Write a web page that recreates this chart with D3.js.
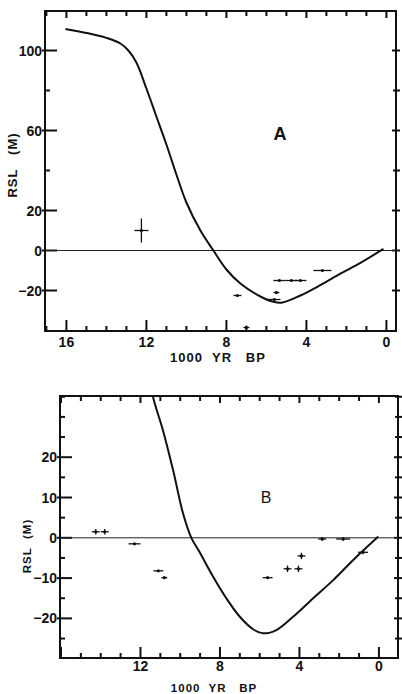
<!DOCTYPE html>
<html>
<head>
<meta charset="utf-8">
<script src="https://cdn.jsdelivr.net/npm/d3@7"></script>
<style>
  body { margin: 0; background: #fff; }
  text { font-family: "Liberation Sans", Arial, sans-serif; fill: #111; }
</style>
</head>
<body>
<div class="graphHere"></div>
<script>
// panel A: model curve + dated samples
var curveAgeA = [16.05, 15, 14, 13.3, 12.9, 12.5, 12, 11.5, 11, 10.5, 10, 9.3, 8.65, 8, 7.3, 6.3, 5.6, 5.2, 4.3, 3.3, 2.3, 1.3, 0.15];
var curveRslA = [110.8, 108.8, 106.3, 103.5, 100, 94, 81, 67, 53, 38, 24, 10, 0, -9.5, -16.5, -23, -25.8, -26, -22.5, -17.3, -11.6, -6.2, 0.8];
var ageA    = [12.25, 7.45, 5.5, 5.6, 5.35, 4.75, 4.3, 3.2, 7.0];
var rslA    = [10, -22.5, -21, -24.5, -15, -15, -15, -10, -38.5];
var ageErrA = [0.35, 0.2, 0.15, 0.3, 0.3, 0.3, 0.3, 0.45, 0.15];
var rslErrA = [6, 0, 0.8, 0, 0, 0, 0, 0, 1];

// panel B
var curveAgeB = [11.6, 11.37, 10.87, 10.36, 9.86, 9.44, 9.02, 8.35, 7.68, 7.0, 6.33, 5.83, 5.16, 4.32, 3.31, 2.3, 1.29, 0.03];
var curveRslB = [42, 35, 26.7, 16.8, 6.1, 0, -3.6, -9.6, -15, -19.6, -22.7, -23.7, -22.9, -19.6, -15, -10.5, -5.5, 0.3];
var ageB    = [14.25, 13.8, 12.3, 11.1, 10.8, 5.6, 4.6, 4.05, 3.9, 2.85, 1.8, 0.8];
var rslB    = [1.5, 1.5, -1.5, -8.2, -9.9, -9.9, -7.7, -7.7, -4.5, -0.3, -0.3, -3.6];
var ageErrB = [0.2, 0.2, 0.3, 0.25, 0.15, 0.25, 0.2, 0.2, 0.2, 0.2, 0.35, 0.25];
var rslErrB = [0.7, 0.7, 0, 0, 0, 0, 0.8, 0.8, 0.8, 0.5, 0.5, 0.5];

var xTickLabelsA = [16, 12, 8, 4, 0];
var yTickLabelsA = [100, 60, 20, 0, -20];
var xTickLabelsB = [12, 8, 4, 0];
var yTickLabelsB = [20, 10, 0, -10, -20];

var svg = d3.select(".graphHere").append("svg")
  .attr("width", 402)
  .attr("height", 694);

function drawPanel(p) {
  var x = d3.scaleLinear().domain(p.xDomain).range([p.left, p.right]);
  var y = d3.scaleLinear().domain(p.yDomain).range([p.bottom, p.top]);
  var g = svg.append("g").attr("class", "graph");

  g.append("clipPath").attr("id", "clip" + p.name)
    .append("rect")
    .attr("x", p.left).attr("y", p.top)
    .attr("width", p.right - p.left).attr("height", p.bottom - p.top);

  // frame
  g.append("rect")
    .attr("x", p.left).attr("y", p.top)
    .attr("width", p.right - p.left).attr("height", p.bottom - p.top)
    .attr("fill", "none").attr("stroke", "#111").attr("stroke-width", 2);

  // x ticks top and bottom, every 1000 yr
  var xt = d3.range(Math.floor(p.xDomain[0]), -0.5, -1);
  xt.forEach(function(v) {
    var major = v % 4 == 0;
    g.append("line")
      .attr("x1", x(v)).attr("x2", x(v))
      .attr("y1", p.bottom).attr("y2", p.bottom - (major ? 11 : 5))
      .attr("stroke", "#111").attr("stroke-width", 2);
    g.append("line")
      .attr("x1", x(v)).attr("x2", x(v))
      .attr("y1", p.top).attr("y2", p.top + (major ? 7 : 5))
      .attr("stroke", "#111").attr("stroke-width", 2);
  });
  p.xLabels.forEach(function(v) {
    g.append("text")
      .attr("x", x(v)).attr("y", p.bottom + p.xLabelDy)
      .attr("text-anchor", "middle")
      .attr("font-size", 14).attr("font-weight", "bold")
      .text(v);
  });

  // y ticks
  var yt = d3.range(p.yTickStart, p.yDomain[1], p.yStep);
  yt.forEach(function(v) {
    var major = p.yLabels.indexOf(v) >= 0;
    g.append("line")
      .attr("x1", p.left - (major ? 3 : 0)).attr("x2", p.left + (major ? 12 : 5))
      .attr("y1", y(v)).attr("y2", y(v))
      .attr("stroke", "#111").attr("stroke-width", 2);
    g.append("line")
      .attr("x1", p.right - (major ? 4 : 3)).attr("x2", p.right + 4)
      .attr("y1", y(v)).attr("y2", y(v))
      .attr("stroke", "#111").attr("stroke-width", 2);
  });
  p.yLabels.forEach(function(v) {
    g.append("text")
      .attr("x", p.left - 3).attr("y", y(v) + 5)
      .attr("text-anchor", "end")
      .attr("font-size", 14).attr("font-weight", "bold")
      .text(v < 0 ? "\u2212" + (-v) : v);
  });

  // zero line
  g.append("line")
    .attr("x1", p.left).attr("x2", p.right)
    .attr("y1", y(0)).attr("y2", y(0))
    .attr("stroke", "#222").attr("stroke-width", 1);

  // model curve
  var line = d3.line()
    .x(function(d) { return x(d[0]); })
    .y(function(d) { return y(d[1]); })
    .curve(d3.curveCatmullRom);
  g.append("path")
    .datum(d3.zip(p.curveAge, p.curveRsl))
    .attr("d", line)
    .attr("clip-path", "url(#clip" + p.name + ")")
    .attr("fill", "none").attr("stroke", "#111").attr("stroke-width", 2);

  // samples with error bars
  p.age.forEach(function(a, i) {
    var r = p.rsl[i];
    g.append("line")
      .attr("x1", x(a + p.ageErr[i])).attr("x2", x(a - p.ageErr[i]))
      .attr("y1", y(r)).attr("y2", y(r))
      .attr("stroke", "#111").attr("stroke-width", 1.3);
    if (p.rslErr[i] > 0) {
      g.append("line")
        .attr("x1", x(a)).attr("x2", x(a))
        .attr("y1", y(r - p.rslErr[i])).attr("y2", y(r + p.rslErr[i]))
        .attr("stroke", "#111").attr("stroke-width", 1.3);
    }
    g.append("circle")
      .attr("cx", x(a)).attr("cy", y(r)).attr("r", 1.6)
      .attr("fill", "#111");
  });

  // panel letter
  g.append("text")
    .attr("x", p.letterX).attr("y", p.letterY)
    .attr("text-anchor", "middle")
    .attr("font-size", p.letterSize).attr("font-weight", p.letterWeight)
    .text(p.name);

  // axis titles
  g.append("text")
    .attr("transform", "translate(" + p.yTitleX + "," + p.yTitleY + ") rotate(-90)")
    .attr("text-anchor", "middle")
    .attr("font-size", p.titleSize).attr("font-weight", "bold")
    .attr("letter-spacing", 1)
    .attr("xml:space", "preserve")
    .text(p.yTitle);
  g.append("text")
    .attr("x", p.xTitleX).attr("y", p.xTitleY)
    .attr("text-anchor", "middle")
    .attr("font-size", p.titleSize).attr("font-weight", "bold")
    .attr("letter-spacing", 1)
    .attr("xml:space", "preserve")
    .text("1000  YR   BP");
}

drawPanel({
  name: "A", left: 45, right: 396, top: 11, bottom: 331,
  xDomain: [17.07, -0.48], yDomain: [-40.25, 119.75],
  yTickStart: -20, yStep: 20, xLabelDy: 16,
  xLabels: xTickLabelsA, yLabels: yTickLabelsA,
  curveAge: curveAgeA, curveRsl: curveRslA,
  age: ageA, rsl: rslA, ageErr: ageErrA, rslErr: rslErrA,
  letterX: 280, letterY: 140, letterWeight: "bold", letterSize: 18,
  titleSize: 13, yTitle: "RSL   (M)",
  yTitleX: 17, yTitleY: 165, xTitleX: 218, xTitleY: 362
});

drawPanel({
  name: "B", left: 60, right: 398, top: 396, bottom: 658,
  xDomain: [16.05, -0.96], yDomain: [-29.83, 35.19],
  yTickStart: -25, yStep: 5, xLabelDy: 13,
  xLabels: xTickLabelsB, yLabels: yTickLabelsB,
  curveAge: curveAgeB, curveRsl: curveRslB,
  age: ageB, rsl: rslB, ageErr: ageErrB, rslErr: rslErrB,
  letterX: 266, letterY: 503, letterWeight: "normal", letterSize: 16,
  titleSize: 11.5, yTitle: "RSL  (M)",
  yTitleX: 31, yTitleY: 546, xTitleX: 214, xTitleY: 692
});
</script>
</body>
</html>
